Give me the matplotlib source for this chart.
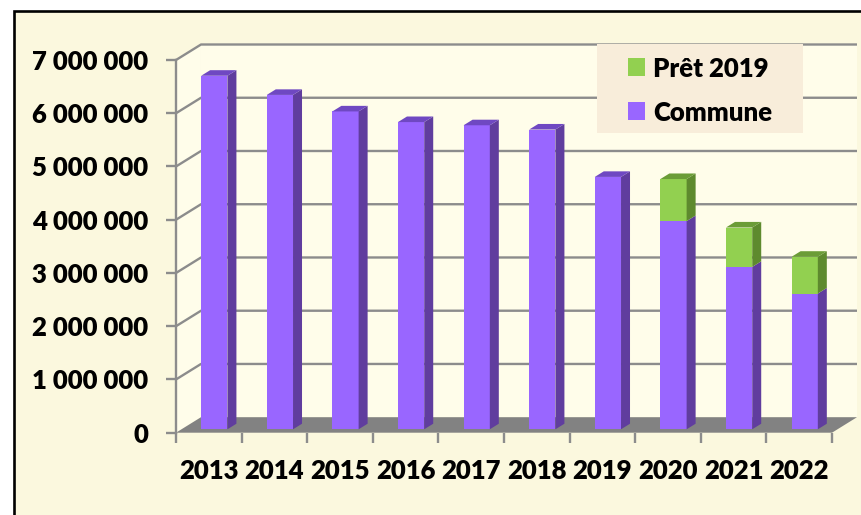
"""
Encours de la dette : histogramme empilé façon 3D (Commune + Prêt 2019)
"""
import matplotlib
matplotlib.use("Agg")
import matplotlib.pyplot as plt
from matplotlib.patches import Polygon, Rectangle

years = ["2013", "2014", "2015", "2016", "2017", "2018", "2019", "2020", "2021", "2022"]
commune = [6.64e6, 6.28e6, 5.97e6, 5.77e6, 5.71e6, 5.63e6, 4.74e6, 3.91e6, 3.05e6, 2.55e6]
pret_2019 = [0, 0, 0, 0, 0, 0, 0, 0.79e6, 0.74e6, 0.69e6]
y_ticks = [0, 1e6, 2e6, 3e6, 4e6, 5e6, 6e6, 7e6]
series_names = ["Prêt 2019", "Commune"]

PURPLE = ("#9966FF", "#603D9E", "#6F48C2")   # face, côté, dessus
GREEN = ("#92D050", "#5E8A2E", "#6B9C37")
GRID = "#8C8C8C"
BG = "#FBF8DE"
WALL = "#FFFDEA"

# profondeur 3D en unités de données
DX, DY = 0.381, 0.291e6
F0, BD = 0.22, 0.36      # position avant de la barre, profondeur de la barre
BW = 0.4

plt.rcParams["font.family"] = ["Lato", "DejaVu Sans"]
plt.rcParams["font.weight"] = "heavy"

W, H = 862, 515
fig = plt.figure(figsize=(W / 100, H / 100), dpi=100)
fig.patch.set_facecolor("white")
fig.patches.append(Rectangle((14 / W, -0.1), 1.0, 1.1 - 11 / H, transform=fig.transFigure,
                             facecolor=BG, edgecolor="black", lw=1.9, zorder=-10))

ax = fig.add_axes([176 / W, (H - 432.7) / H, 656 / W, 372.7 / H])
ax.set_xlim(-0.5, len(years) - 0.5)
ax.set_ylim(0, 7e6)
ax.patch.set_visible(False)

x0, x1 = -0.5, len(years) - 0.5
top = y_ticks[-1]

# murs
ax.add_patch(Polygon([(x0 + DX, DY), (x1 + DX, DY), (x1 + DX, top + DY), (x0 + DX, top + DY)],
                     closed=True, fc=WALL, ec="none", zorder=0, clip_on=False))
ax.add_patch(Polygon([(x0, 0), (x0 + DX, DY), (x0 + DX, top + DY), (x0, top)],
                     closed=True, fc=WALL, ec="none", zorder=0, clip_on=False))

# quadrillage (mur gauche + mur du fond)
for v in y_ticks[1:]:
    ax.plot([x0, x0 + DX, x1 + DX], [v, v + DY, v + DY], color=GRID, lw=1.7,
            zorder=1, clip_on=False, solid_capstyle="butt")

# sol
ax.add_patch(Polygon([(x0, 0), (x1, 0), (x1 + DX, DY), (x0 + DX, DY)],
                     closed=True, fc="#828282", ec="none", zorder=2, clip_on=False))


def bar3d(xc, y0, h, cols, with_top):
    xl, xr = xc - BW / 2, xc + BW / 2
    y1 = y0 + h
    ddx, ddy = BD * DX, BD * DY
    ax.add_patch(Rectangle((xl, y0), BW, h, fc=cols[0], ec="none", zorder=4, clip_on=False))
    ax.add_patch(Polygon([(xr, y0), (xr + ddx, y0 + ddy), (xr + ddx, y1 + ddy), (xr, y1)],
                         closed=True, fc=cols[1], ec="none", zorder=4, clip_on=False))
    if with_top:
        ax.add_patch(Polygon([(xl, y1), (xr, y1), (xr + ddx, y1 + ddy), (xl + ddx, y1 + ddy)],
                             closed=True, fc=cols[2], ec="none", zorder=4, clip_on=False))


for i, (c, p) in enumerate(zip(commune, pret_2019)):
    xc = i + F0 * DX
    base = F0 * DY
    bar3d(xc, base, c, PURPLE, p == 0)
    if p > 0:
        bar3d(xc, base + c, p, GREEN, True)

# axes
for s in ["top", "right", "bottom"]:
    ax.spines[s].set_visible(False)
ax.spines["left"].set_color(GRID)
ax.spines["left"].set_linewidth(1.7)

ax.set_yticks(y_ticks)
ax.set_yticklabels([f"{v:,.0f}".replace(",", " ") for v in y_ticks])
ax.tick_params(axis="y", length=7, width=1.7, color=GRID, pad=13, labelsize=18.5)

ax.set_xticks([k - 0.5 for k in range(len(years) + 1)])
ax.set_xticklabels([])
ax.set_xticks(range(len(years)), minor=True)
ax.set_xticklabels(years, minor=True)
ax.tick_params(axis="x", which="major", length=7, width=1.7, color=GRID)
ax.tick_params(axis="x", which="minor", length=0, pad=19, labelsize=18.5)

# légende (cadre beige, placée à la main comme dans l'original)
fig.patches.append(Rectangle((597 / W, 1 - 133 / H), 206 / W, 89 / H, transform=fig.transFigure,
                             fc="#F8EDDA", ec="none", zorder=5))
for k, (name, col) in enumerate(zip(series_names, [GREEN[0], PURPLE[0]])):
    yc = 1 - (67 + 44 * k) / H
    fig.patches.append(Rectangle((628 / W, yc - 8.5 / H), 17 / W, 17 / H,
                                 transform=fig.transFigure, fc=col, ec="none", zorder=6))
    fig.text(653 / W, yc, name, fontsize=18.5, va="center_baseline", ha="left", zorder=6)

fig.savefig("out.png", dpi=100)
